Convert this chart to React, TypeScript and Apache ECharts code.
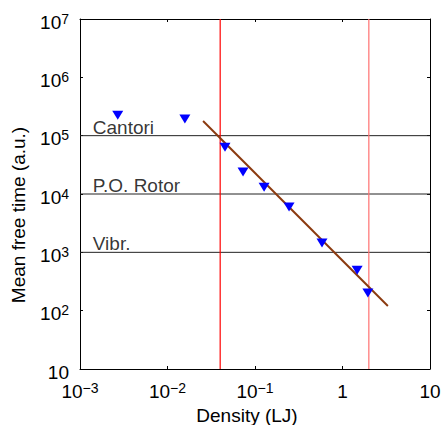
import React, { useEffect, useRef } from 'react';
import * as echarts from 'echarts';

const densities = [0.0027, 0.0158, 0.0454, 0.073, 0.127, 0.245, 0.583, 1.47, 1.95];
const freeTimes = [2.24e5, 1.93e5, 6.3e4, 2.38e4, 1.31e4, 5.96e3, 1.44e3, 495, 200];
const fitDensities = [0.0255, 3.3];
const fitTimes = [1.78e5, 120];
const regimeNames = ['Cantori', 'P.O. Rotor', 'Vibr.'];
const regimeLevels = [1e5, 1e4, 1e3];
const regimeLabelDensity = 0.0014;
const boundaryDensities = [0.04, 2.0];
const boundaryColors = ['#ff0000', '#ff7070'];
const xRange = [0.001, 10];
const yRange = [10, 1e7];

const FONT = '"Liberation Sans", Arial, Helvetica, sans-serif';

const fmt = (v: number) => {
  const e = Math.round(Math.log10(v));
  if (e === 0) return '{b|1}';
  if (e === 1) return '{b|10}';
  const s = e < 0 ? '\u2212' + -e : String(e);
  return '{b|10}{sup|' + s + '}';
};

const rich = {
  b: { fontSize: 19, fontFamily: FONT, color: '#000', lineHeight: 19, padding: [6, 0, 0, 0] },
  sup: { fontSize: 14, fontFamily: FONT, color: '#000', lineHeight: 14, verticalAlign: 'top', padding: [2, 0, 0, 0] },
};

export default function App() {
  const ref = useRef<HTMLDivElement>(null);
  useEffect(() => {
    if (!ref.current) return;
    const chart = echarts.init(ref.current, undefined, { renderer: 'svg' });
    const axisLine = { show: true, onZero: false, lineStyle: { color: '#000', width: 1 } };
    const tick = { show: true, inside: true, length: 3, lineStyle: { color: '#000' } };
    const series: any[] = [];
    regimeLevels.forEach((lv, i) => {
      series.push({
        type: 'line',
        data: [[xRange[0], lv], [xRange[1], lv]],
        symbol: 'none',
        color: '#222',
        lineStyle: { color: '#222', width: 1, opacity: 1 },
        z: 1,
      });
      series.push({
        type: 'scatter',
        data: [[regimeLabelDensity, lv]],
        symbolSize: 0,
        label: {
          show: true,
          formatter: regimeNames[i],
          position: [0, 1],
          align: 'left',
          verticalAlign: 'bottom',
          fontSize: 19,
          fontFamily: FONT,
          color: '#000',
        },
        z: 3,
      });
    });
    boundaryDensities.forEach((d, i) => {
      series.push({
        type: 'line',
        data: [[d, yRange[0]], [d, yRange[1]]],
        symbol: 'none',
        color: boundaryColors[i],
        itemStyle: { color: boundaryColors[i] },
        lineStyle: { color: boundaryColors[i], width: 1.2, opacity: 1 },
        z: 1,
      });
    });
    series.push({
      type: 'line',
      data: fitDensities.map((d, i) => [d, fitTimes[i]]),
      symbol: 'none',
      color: '#8b3a0f',
      lineStyle: { color: '#8b3a0f', width: 2, opacity: 1 },
      z: 2,
    });
    series.push({
      type: 'scatter',
      data: densities.map((d, i) => [d, freeTimes[i]]),
      symbol: 'triangle',
      symbolRotate: 180,
      symbolSize: [11, 9],
      itemStyle: { color: '#0000ff', opacity: 1 },
      z: 4,
    });
    chart.setOption({
      animation: false,
      backgroundColor: '#fff',
      grid: { left: 80, right: 11, top: 19, bottom: 56, containLabel: false, outerBoundsMode: 'none' },
      xAxis: [
        {
          type: 'log',
          logBase: 10,
          min: xRange[0],
          max: xRange[1],
          axisLine,
          axisTick: tick,
          splitLine: { show: false },
          minorTick: { show: false },
          axisLabel: { formatter: fmt, rich, margin: 10 },
          name: 'Density (LJ)',
          nameLocation: 'middle',
          nameGap: 36,
          nameTextStyle: { fontSize: 19, fontFamily: FONT, color: '#000', verticalAlign: 'top', padding: [0, 16, 0, 0] },
        },
        {
          type: 'log',
          logBase: 10,
          position: 'top',
          min: xRange[0],
          max: xRange[1],
          axisLine,
          axisTick: tick,
          splitLine: { show: false },
          axisLabel: { show: false },
        },
      ],
      yAxis: [
        {
          type: 'log',
          logBase: 10,
          min: yRange[0],
          max: yRange[1],
          axisLine,
          axisTick: tick,
          splitLine: { show: false },
          axisLabel: { formatter: fmt, rich, margin: 11 },
          name: 'Mean free time (a.u.)',
          nameLocation: 'middle',
          nameGap: 52,
          nameRotate: 90,
          nameTextStyle: { fontSize: 19, fontFamily: FONT, color: '#000', padding: [0, 42, 0, 0] },
        },
        {
          type: 'log',
          logBase: 10,
          position: 'right',
          min: yRange[0],
          max: yRange[1],
          axisLine,
          axisTick: tick,
          splitLine: { show: false },
          axisLabel: { show: false },
        },
      ],
      series,
    });
    return () => chart.dispose();
  }, []);
  return <div ref={ref} style={{ width: 441, height: 425, position: 'absolute', left: 0, top: 0 }} />;
}
